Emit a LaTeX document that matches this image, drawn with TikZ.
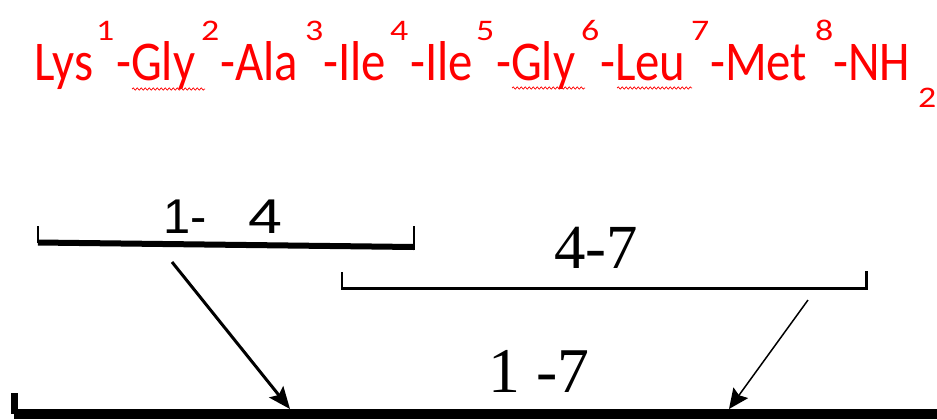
\documentclass[tikz,border=0pt]{standalone}
\usepackage{fontspec}
\setmainfont{Liberation Serif}
\newfontfamily\calib{Carlito}
\newfontfamily\lsans{Liberation Sans}
\usetikzlibrary{arrows.meta,decorations.pathmorphing}
\definecolor{pepred}{RGB}{255,0,0}
\newcommand{\sy}[1]{\scalebox{1}[1.15]{#1}}
\newcommand{\sx}[1]{\scalebox{1.2}[1]{#1}}
\tikzset{
  res/.style={anchor=base west, inner sep=0pt, text=pepred, font=\calib\fontsize{49}{49}\selectfont},
  supnum/.style={anchor=base west, inner sep=0pt, text=pepred, font=\calib\fontsize{30}{30}\selectfont},
  squig/.style={draw=pepred, line width=0.7bp, decorate, decoration={snake, segment length=4bp, amplitude=1.1bp}},
  lbl/.style={anchor=base west, inner sep=0pt, text=black},
  tick/.style={line width=2bp, line cap=rect},
  arrowthick/.style={line width=3bp, -{Stealth[length=22bp, width=18bp, inset=4bp]}},
  arrowthin/.style={line width=1.5bp, -{Stealth[length=20bp, width=18bp, inset=3bp]}}
}
\begin{document}
\begin{tikzpicture}[x=1bp, y=-1bp]
\useasboundingbox (0,0) rectangle (937,419);
% peptide sequence
\node[res] (r1) at (34,80) {\sy{Lys}};
\node[supnum] (s1) at (96,40) {\sx{1}};
\node[res] (r2) at (116,80) {\sy{-Gly}};
\node[supnum] (s2) at (201,40) {\sx{2}};
\node[res] (r3) at (220,80) {\sy{-Ala}};
\node[supnum] (s3) at (305,40) {\sx{3}};
\node[res] (r4) at (323,80) {\sy{-Ile}};
\node[supnum] (s4) at (390,40) {\sx{4}};
\node[res] (r5) at (410,80) {\sy{-Ile}};
\node[supnum] (s5) at (476,40) {\sx{5}};
\node[res] (r6) at (496,80) {\sy{-Gly}};
\node[supnum] (s6) at (581,40) {\sx{6}};
\node[res] (r7) at (600,80) {\sy{-Leu}};
\node[supnum] (s7) at (691,40) {\sx{7}};
\node[res] (r8) at (710,80) {\sy{-Met}};
\node[supnum] (s8) at (815,40) {\sx{8}};
\node[res] (r9) at (833,80) {\sy{-NH}};
\node[supnum] (sub) at (918,107) {\sx{2}};
% spell-check squiggles
\draw[squig] (132,89) -- (205,89);
\draw[squig] (512,88) -- (585,88);
\draw[squig] (617,88) -- (692,88);
% bracket 1-4
\coordinate (b1l) at (38,242.5);
\coordinate (b1r) at (414,247);
\draw[tick, line width=1.6bp] (38,227) -- (b1l);
\draw[tick] (414,227) -- (414,249);
\draw[line width=6bp] (b1l) -- (b1r);
\node[lbl, font=\lsans\fontsize{49}{49}\selectfont] (l14) at (163,233) {1-\hspace{0.85em}\scalebox{1.25}[1]{4}};
% bracket 4-7
\coordinate (b2l) at (342,288.5);
\coordinate (b2r) at (866,288.5);
\draw[tick] (342,273) -- (b2l);
\draw[tick, line width=3bp] (866,272) -- (b2r);
\draw[line width=3.5bp] (b2l) -- (b2r);
\node[lbl, font=\fontsize{63}{63}\selectfont] (l47) at (554,268) {4-7};
% bracket 1-7
\coordinate (b3l) at (14,414);
\coordinate (b3r) at (940,414);
\draw[line width=7bp] (14,393) -- (14,414);
\draw[line width=10bp] (b3l) -- (b3r);
\node[lbl, font=\fontsize{64}{64}\selectfont] (l17) at (488,392) {1 -7};
% arrows
\coordinate (a1s) at (172,262);
\coordinate (a1e) at (290,409);
\coordinate (a2s) at (808,300);
\coordinate (a2e) at (729,409);
\draw[arrowthick] (a1s) -- (a1e);
\draw[arrowthin] (a2s) -- (a2e);
\end{tikzpicture}
\end{document}
